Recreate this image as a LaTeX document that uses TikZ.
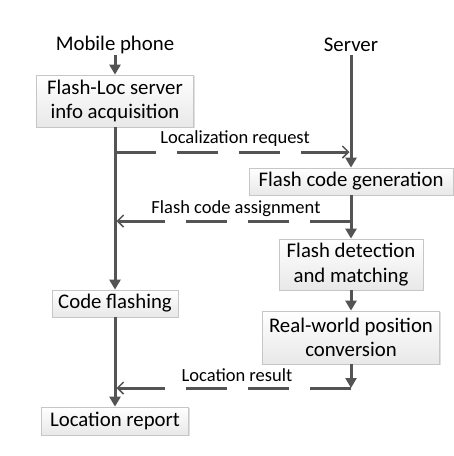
\documentclass[tikz,border=0pt]{standalone}
\usepackage{fontspec}
\setmainfont{Carlito}
\usetikzlibrary{arrows.meta,shadows,calc}
\definecolor{ln}{HTML}{545454}
\definecolor{bd}{HTML}{C6C6C6}
\definecolor{bfill}{HTML}{E8E8E8}
\tikzset{
  box/.style={draw=bd, line width=0.8pt, top color=white, bottom color=bfill,
    inner sep=0pt, align=center, font=\fontsize{20.8}{24.5}\selectfont,
    drop shadow={shadow xshift=1.2pt, shadow yshift=-1.2pt, fill=black, opacity=0.12}},
  hdr/.style={font=\fontsize{20.8}{24.5}\selectfont, inner sep=0pt},
  lbl/.style={font=\fontsize{18.5}{21}\selectfont, inner sep=0pt},
  flow/.style={draw=ln, line width=3pt, -{Triangle[length=10pt,width=11pt]}},
  msg/.style={draw=ln, line width=3pt, dash pattern=on 41pt off 21pt},
  msgtip/.style={draw=ln, line width=3pt, -{Straight Barb[length=6pt,width=12pt,line width=1.5pt]}},
}
\begin{document}
\begin{tikzpicture}[x=1pt,y=-1pt]
\useasboundingbox (0,0) rectangle (454,456);
% headers
\node[hdr] (mobile) at (115,45) {Mobile phone};
\node[hdr] (server) at (351,45) {Server};
% boxes
\node[box, minimum width=157pt, minimum height=52pt] (b1) at (115,101) {Flash-Loc server\\info acquisition};
\node[box, minimum width=204pt, minimum height=27pt] (b2) at (351,181.5) {Flash code generation};
\node[box, minimum width=144pt, minimum height=51pt] (b3) at (351,264.5) {Flash detection\\and matching};
\node[box, minimum width=177pt, minimum height=53pt] (b4) at (351,337.5) {Real-world position\\conversion};
\node[box, minimum width=126pt, minimum height=27pt] (b5) at (115,303.5) {Code flashing};
\node[box, minimum width=147pt, minimum height=28pt] (b6) at (115,421) {Location report};
% lane coordinates
\coordinate (mtop) at (115,55);
\coordinate (stop) at (351,55);
\coordinate (m1s) at (115,152);
\coordinate (m1e) at (349.5,152);
\coordinate (m2s) at (351,221);
\coordinate (m2e) at (116.5,221);
\coordinate (m3s) at (351,388);
\coordinate (m3e) at (116.5,388);
% flows
\draw[flow] (mtop) -- (b1.north);
\draw[flow] (stop) -- (b2.north);
\draw[flow] (b1.south) -- (b5.north);
\draw[flow] (b5.south) -- (b6.north);
\draw[flow] (b2.south) -- (b3.north);
\draw[flow] (b3.south) -- (b4.north);
\draw[flow] (b4.south) -- (m3s);
% messages
\draw[msg] (m1s) -- (m1e);
\draw[msgtip] ($(m1e)+(-12,0)$) -- (m1e);
\draw[msg] (m2s) -- (m2e);
\draw[msgtip] ($(m2e)+(12,0)$) -- (m2e);
\draw[msg] (m3s) -- (m3e);
\draw[msgtip] ($(m3e)+(12,0)$) -- (m3e);
% labels
\node[lbl] (l1) at (235,139) {Localization request};
\node[lbl] (l2) at (236,209) {Flash code assignment};
\node[lbl] (l3) at (237,375) {Location result};
\end{tikzpicture}
\end{document}
